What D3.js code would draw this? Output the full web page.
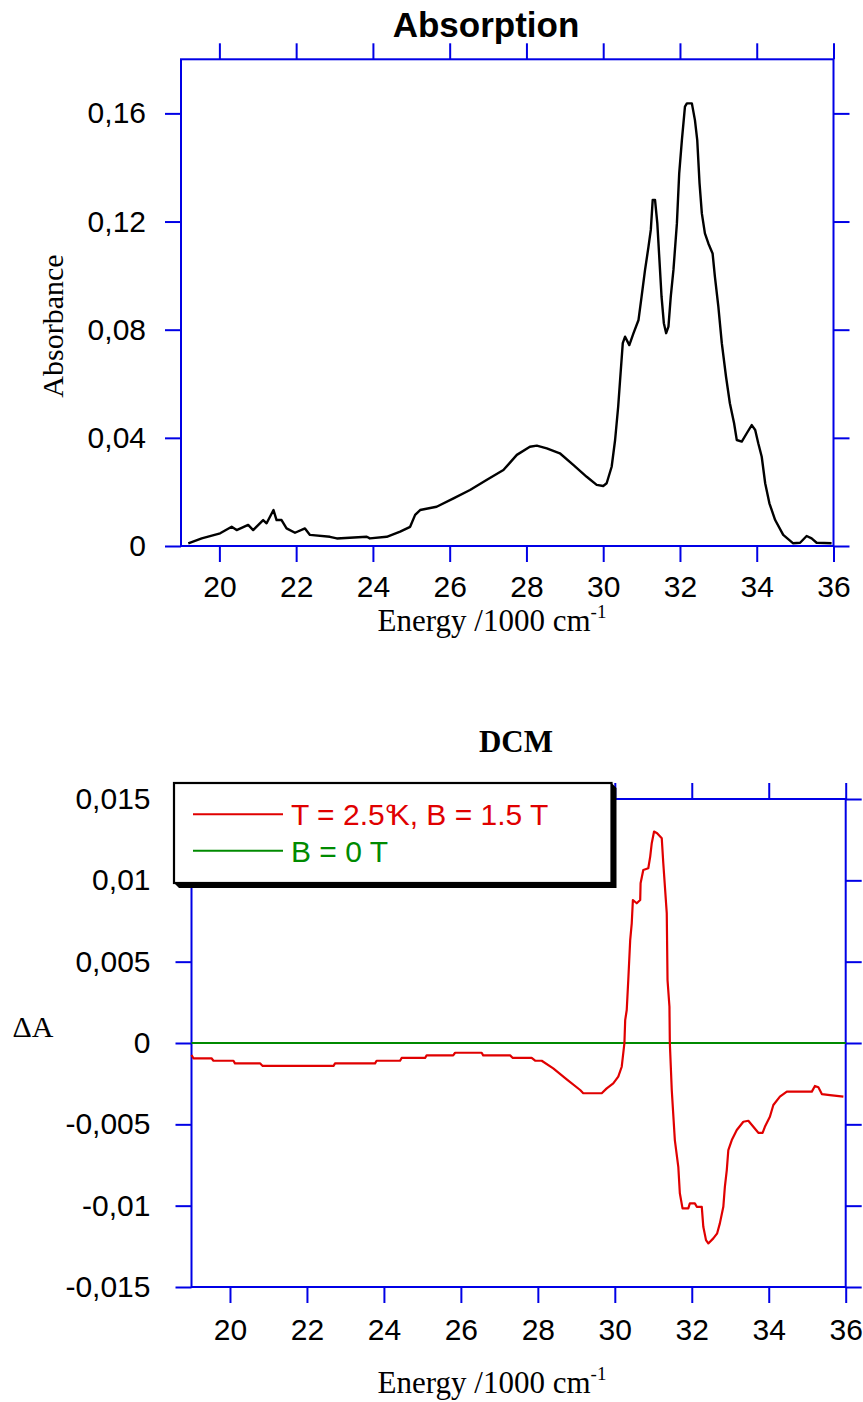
<!DOCTYPE html>
<html>
<head>
<meta charset="utf-8">
<script src="https://cdn.jsdelivr.net/npm/d3@7"></script>
<style>
  html, body { margin: 0; padding: 0; background: #fff; }
  svg { display: block; }
</style>
</head>
<body>
<svg id="chart" width="863" height="1402"></svg>
<script>
// ---- Absorption spectrum (energy in 1000 cm^-1, absorbance) ----
const absEnergy = [19.19, 19.54, 20.02, 20.32, 20.45, 20.75, 20.88, 21.14, 21.23, 21.41, 21.49, 21.62, 21.75, 21.97, 22.23, 22.36, 22.88, 23.06, 23.84, 23.92, 24.36, 24.71, 24.97, 25.10, 25.23, 25.66, 26.10, 26.53, 26.96, 27.40, 27.75, 28.09, 28.27, 28.53, 28.87, 29.22, 29.57, 29.83, 30.00, 30.09, 30.22, 30.31, 30.39, 30.44, 30.51, 30.57, 30.68, 30.79, 30.92, 31.00, 31.09, 31.18, 31.24, 31.29, 31.35, 31.41, 31.46, 31.52, 31.58, 31.64, 31.70, 31.76, 31.83, 31.92, 31.98, 32.05, 32.13, 32.18, 32.31, 32.39, 32.45, 32.51, 32.57, 32.65, 32.74, 32.85, 32.91, 33.00, 33.09, 33.20, 33.30, 33.41, 33.48, 33.61, 33.74, 33.87, 33.96, 34.04, 34.13, 34.22, 34.33, 34.48, 34.69, 34.95, 35.13, 35.30, 35.43, 35.56, 35.95];
const absValue = [0.0010, 0.0028, 0.0047, 0.0071, 0.0059, 0.0078, 0.0059, 0.0096, 0.0084, 0.0133, 0.0096, 0.0096, 0.0065, 0.0049, 0.0065, 0.0041, 0.0034, 0.0028, 0.0034, 0.0028, 0.0034, 0.0053, 0.0071, 0.0115, 0.0133, 0.0145, 0.0176, 0.0207, 0.0244, 0.0281, 0.0337, 0.0367, 0.0371, 0.0361, 0.0343, 0.0300, 0.0256, 0.0226, 0.0222, 0.0232, 0.0293, 0.0392, 0.0515, 0.0614, 0.0750, 0.0774, 0.0743, 0.0787, 0.0836, 0.0922, 0.1021, 0.1107, 0.1169, 0.1280, 0.1280, 0.1193, 0.1070, 0.0922, 0.0824, 0.0787, 0.0811, 0.0922, 0.1021, 0.1193, 0.1378, 0.1501, 0.1625, 0.1637, 0.1637, 0.1575, 0.1501, 0.1341, 0.1230, 0.1156, 0.1119, 0.1082, 0.0996, 0.0885, 0.0750, 0.0626, 0.0528, 0.0454, 0.0392, 0.0386, 0.0417, 0.0447, 0.0429, 0.0380, 0.0330, 0.0232, 0.0158, 0.0096, 0.0041, 0.0010, 0.0012, 0.0037, 0.0028, 0.0012, 0.0010];

// ---- Differential absorbance, T = 2.5 K, B = 1.5 T ----
const mcdEnergy = [19.00, 19.05, 19.52, 19.57, 20.09, 20.13, 20.78, 20.85, 22.69, 22.73, 23.77, 23.81, 24.42, 24.46, 25.07, 25.11, 25.80, 25.85, 26.54, 26.58, 27.28, 27.35, 27.84, 27.93, 28.10, 28.40, 28.75, 29.10, 29.18, 29.66, 29.79, 29.96, 30.09, 30.18, 30.22, 30.25, 30.27, 30.31, 30.35, 30.40, 30.44, 30.47, 30.57, 30.66, 30.67, 30.74, 30.87, 30.92, 30.96, 31.02, 31.10, 31.22, 31.26, 31.35, 31.37, 31.42, 31.43, 31.48, 31.56, 31.65, 31.69, 31.76, 31.91, 31.95, 32.08, 32.13, 32.26, 32.30, 32.37, 32.43, 32.56, 32.66, 32.73, 32.82, 32.86, 32.91, 32.95, 33.04, 33.17, 33.34, 33.47, 33.60, 33.73, 33.84, 33.90, 34.03, 34.12, 34.29, 34.47, 35.12, 35.20, 35.29, 35.38, 35.59, 35.94];
const mcdValue = [-0.00074, -0.00094, -0.00094, -0.00109, -0.00109, -0.00125, -0.00125, -0.00141, -0.00141, -0.00125, -0.00125, -0.00109, -0.00109, -0.00092, -0.00092, -0.00076, -0.00076, -0.00060, -0.00060, -0.00076, -0.00076, -0.00092, -0.00092, -0.00109, -0.00109, -0.00156, -0.00223, -0.00289, -0.00309, -0.00309, -0.00279, -0.00248, -0.00207, -0.00146, -0.00063, 0.00000, 0.00141, 0.00203, 0.00387, 0.00633, 0.00736, 0.00879, 0.00859, 0.00879, 0.00982, 0.01064, 0.01074, 0.01146, 0.01228, 0.01300, 0.01290, 0.01259, 0.01105, 0.00798, 0.00387, 0.00223, 0.00000, -0.00289, -0.00597, -0.00761, -0.00924, -0.01017, -0.01017, -0.00986, -0.00986, -0.01007, -0.01007, -0.01130, -0.01212, -0.01232, -0.01201, -0.01170, -0.01109, -0.01007, -0.00884, -0.00781, -0.00658, -0.00597, -0.00535, -0.00484, -0.00478, -0.00515, -0.00552, -0.00552, -0.00515, -0.00453, -0.00381, -0.00330, -0.00299, -0.00299, -0.00264, -0.00272, -0.00314, -0.00320, -0.00330];

// ---- Zero-field reference ----
const zeroEnergy = [19, 36];
const zeroValue = [0, 0];

// ---- Axis ticks and labels ----
const energyTicks = [20, 22, 24, 26, 28, 30, 32, 34, 36];
const absTicks = [0, 0.04, 0.08, 0.12, 0.16];
const absTickLabels = ["0", "0,04", "0,08", "0,12", "0,16"];
const dATicks = [-0.015, -0.01, -0.005, 0, 0.005, 0.01, 0.015];
const dATickLabels = ["-0,015", "-0,01", "-0,005", "0", "0,005", "0,01", "0,015"];

const seriesNames = [["T = 2.5°", "K, B = 1.5 T"], ["B = 0 T"]];
const seriesColors = ["#e00000", "#008a00"];

const AXIS_BLUE = "#0000e6";
const TICK = 16;
const svg = d3.select("#chart");

function drawFrame(g, x, y, yTicks, yLabels, xPad, yPad) {
  const [x0, x1] = x.range();
  const [y0, y1] = y.range();

  const styleAxis = sel => {
    sel.select(".domain").remove();
    sel.selectAll(".tick line").attr("stroke", AXIS_BLUE).attr("stroke-width", 2);
    sel.selectAll(".tick text")
      .attr("fill", "#000")
      .attr("font-family", "'Liberation Sans', Arial, sans-serif")
      .attr("font-size", 30);
  };

  g.append("g").attr("transform", `translate(0,${y0})`)
    .call(d3.axisBottom(x).tickValues(energyTicks).tickSize(TICK).tickPadding(xPad).tickFormat(d3.format("d")))
    .call(styleAxis);
  g.append("g").attr("transform", `translate(0,${y1})`)
    .call(d3.axisTop(x).tickValues(energyTicks).tickSize(TICK).tickFormat(""))
    .call(styleAxis);
  g.append("g").attr("transform", `translate(${x0},0)`)
    .call(d3.axisLeft(y).tickValues(yTicks).tickSize(TICK).tickPadding(yPad)
      .tickFormat((d, i) => yLabels[i]))
    .call(styleAxis);
  g.append("g").attr("transform", `translate(${x1},0)`)
    .call(d3.axisRight(y).tickValues(yTicks).tickSize(TICK).tickFormat(""))
    .call(styleAxis);

  g.append("rect")
    .attr("x", x0).attr("y", y1)
    .attr("width", x1 - x0).attr("height", y0 - y1)
    .attr("fill", "none").attr("stroke", AXIS_BLUE).attr("stroke-width", 2);
}

function energyTitle(g, cx, baseline) {
  const t = g.append("text")
    .attr("x", cx).attr("y", baseline)
    .attr("text-anchor", "middle")
    .attr("font-family", "'Liberation Serif', 'Times New Roman', serif")
    .attr("font-size", 31).attr("fill", "#000");
  t.append("tspan").text("Energy /1000 cm");
  t.append("tspan").attr("dy", -13).attr("font-size", 19).text("-1");
}

// ================= Absorption panel =================
{
  const g = svg.append("g");
  const x = d3.scaleLinear().domain([19, 36]).range([181, 833.5]);
  const y = d3.scaleLinear().domain([0, 0.18]).range([546, 59.3]);

  drawFrame(g, x, y, absTicks, absTickLabels, 14, 19);

  const line = d3.line().x((d, i) => x(absEnergy[i])).y((d, i) => y(absValue[i]));
  g.append("path")
    .datum(absValue)
    .attr("d", line)
    .attr("fill", "none").attr("stroke", "#000").attr("stroke-width", 2.4)
    .attr("stroke-linejoin", "round");

  g.append("text")
    .attr("x", 486).attr("y", 37)
    .attr("text-anchor", "middle")
    .attr("font-family", "'Liberation Sans', Arial, sans-serif")
    .attr("font-weight", "bold").attr("font-size", 35)
    .text("Absorption");

  g.append("text")
    .attr("transform", "translate(63,326) rotate(-90)")
    .attr("text-anchor", "middle")
    .attr("font-family", "'Liberation Serif', 'Times New Roman', serif")
    .attr("font-size", 30)
    .text("Absorbance");

  energyTitle(g, 492, 631);
}

// ================= DCM differential panel =================
{
  const g = svg.append("g");
  const x = d3.scaleLinear().domain([19, 36]).range([191.5, 845.7]);
  const y = d3.scaleLinear().domain([-0.015, 0.015]).range([1287, 799]);

  drawFrame(g, x, y, dATicks, dATickLabels, 16, 25);

  const series = [
    { e: mcdEnergy, v: mcdValue },
    { e: zeroEnergy, v: zeroValue }
  ];
  // zero-field line underneath, field-on trace on top
  [1, 0].forEach(k => {
    const s = series[k];
    g.append("path")
      .datum(s.v)
      .attr("d", d3.line().x((d, i) => x(s.e[i])).y(d => y(d)))
      .attr("fill", "none").attr("stroke", seriesColors[k]).attr("stroke-width", 2.2)
      .attr("stroke-linejoin", "round");
  });

  g.append("text")
    .attr("x", 516).attr("y", 752)
    .attr("text-anchor", "middle")
    .attr("font-family", "'Liberation Serif', 'Times New Roman', serif")
    .attr("font-weight", "bold").attr("font-size", 31)
    .text("DCM");

  g.append("text")
    .attr("x", 33).attr("y", 1037)
    .attr("text-anchor", "middle")
    .attr("font-family", "'Liberation Serif', 'Times New Roman', serif")
    .attr("font-size", 30)
    .text("ΔA");

  energyTitle(g, 492, 1393);

  // legend with drop shadow
  const L = { left: 174, top: 783, right: 611.5, bottom: 883 }, sh = 5;
  const leg = g.append("g");
  leg.append("polygon")
    .attr("points", [
      [L.left, L.bottom], [L.left + sh, L.bottom + sh], [L.right + sh, L.bottom + sh],
      [L.right + sh, L.top + sh], [L.right, L.top]
    ].map(p => p.join(",")).join(" "))
    .attr("fill", "#000");
  leg.append("rect")
    .attr("x", L.left).attr("y", L.top)
    .attr("width", L.right - L.left).attr("height", L.bottom - L.top)
    .attr("fill", "#fff").attr("stroke", "#000").attr("stroke-width", 2.2);
  const rowY = [814.3, 850.7];
  seriesNames.forEach((parts, k) => {
    leg.append("line")
      .attr("x1", 193).attr("x2", 283)
      .attr("y1", rowY[k]).attr("y2", rowY[k])
      .attr("stroke", seriesColors[k]).attr("stroke-width", 2);
    const t = leg.append("text")
      .attr("x", 291).attr("y", rowY[k] + 11)
      .attr("fill", seriesColors[k])
      .attr("font-family", "'Liberation Sans', Arial, sans-serif")
      .attr("font-size", 30);
    parts.forEach((p, j) => {
      t.append("tspan").attr("dx", j > 0 ? -7 : 0).text(p);
    });
  });
}
</script>
</body>
</html>
